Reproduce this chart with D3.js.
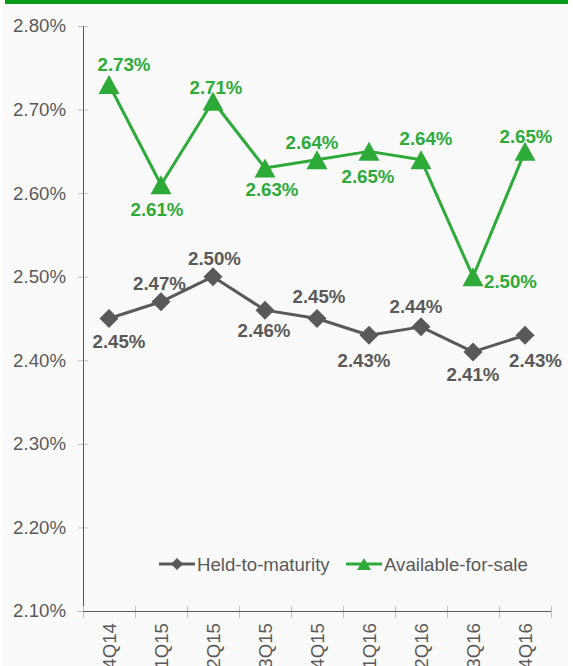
<!DOCTYPE html>
<html>
<head>
<meta charset="utf-8">
<script src="https://cdn.jsdelivr.net/npm/d3@7"></script>
<style>
  html, body { margin: 0; padding: 0; background: #ffffff; }
  svg { display: block; font-family: "Liberation Sans", Arial, sans-serif; }
</style>
</head>
<body>
<svg id="chart" width="573" height="666"></svg>
<script>
// ---- data ----
const categories = ["4Q14", "1Q15", "2Q15", "3Q15", "4Q15", "1Q16", "2Q16", "3Q16", "4Q16"];
const heldToMaturity = [2.45, 2.47, 2.50, 2.46, 2.45, 2.43, 2.44, 2.41, 2.43];
const availableForSale = [2.73, 2.61, 2.71, 2.63, 2.64, 2.65, 2.64, 2.50, 2.65];
const yTicks = [2.10, 2.20, 2.30, 2.40, 2.50, 2.60, 2.70, 2.80];
const seriesNames = ["Held-to-maturity", "Available-for-sale"];

// label placement (offsets of label centre from the point)
const htmLabelOffsets = [[10, 23], [-1.5, -19], [1.5, -18], [-1, 20], [2, -22], [-5, 25], [-5, -21], [0, 22], [10.5, 25]];
const afsLabelOffsets = [[15, -20], [-4, 24], [3, -14], [7, 21], [-5, -17], [-1, 25], [5, -21], [37.5, 5], [1, -15]];

// ---- styles ----
const GREEN = "#2eaa38";
const GRAY = "#595959";
const FS = 18.67;

const svg = d3.select("#chart");

// background panel + top bar
svg.append("rect").attr("x", 3).attr("y", 0).attr("width", 565).attr("height", 666).attr("fill", "#fafafa");
svg.append("rect").attr("x", 5).attr("y", 0).attr("width", 563).attr("height", 4).attr("fill", "#069c1a");

const pLeft = 83, pRight = 551, pTop = 26, pBottom = 611;
const x = d3.scaleBand().domain(categories).range([pLeft, pRight]).padding(0);
const y = d3.scaleLinear().domain([2.10, 2.80]).range([pBottom, pTop]);
const cx = d => x(d) + x.bandwidth() / 2;

// y axis
const yAxis = svg.append("g").attr("transform", `translate(${pLeft},0)`)
  .call(d3.axisLeft(y).tickValues(yTicks).tickSize(0).tickPadding(17).tickFormat(d => d.toFixed(2) + "%"));
yAxis.select(".domain").remove();
yAxis.selectAll("text").attr("font-size", FS).attr("fill", GRAY).attr("font-family", "Liberation Sans, Arial, sans-serif");
yAxis.selectAll(".tick").append("line").attr("x1", -5).attr("x2", 5).attr("stroke", "#c0c0c0").attr("stroke-width", 1);
svg.append("line").attr("x1", pLeft + 0.5).attr("x2", pLeft + 0.5).attr("y1", pTop).attr("y2", pBottom)
  .attr("stroke", GRAY).attr("stroke-width", 1);

// x axis
const xAxis = svg.append("g").attr("transform", `translate(0,${pBottom})`)
  .call(d3.axisBottom(x).tickSize(0).tickFormat(""));
xAxis.select(".domain").remove();
xAxis.selectAll(".tick").remove();
const xTickPos = categories.map(c => x(c)).concat([pRight]);
svg.append("g").selectAll("line").data(xTickPos).join("line")
  .attr("x1", d => d + 0.5).attr("x2", d => d + 0.5)
  .attr("y1", pBottom - 5).attr("y2", pBottom + 7)
  .attr("stroke", "#c0c0c0").attr("stroke-width", 1);
svg.append("line").attr("x1", pLeft).attr("x2", pRight).attr("y1", pBottom + 0.5).attr("y2", pBottom + 0.5)
  .attr("stroke", GRAY).attr("stroke-width", 1);
svg.append("g").selectAll("text").data(categories).join("text")
  .attr("transform", d => `translate(${cx(d)},${pBottom + 12}) rotate(-90)`)
  .attr("text-anchor", "end").attr("dy", "0.35em")
  .attr("font-size", FS).attr("fill", GRAY)
  .text(d => d);

// lines
const line = d3.line().x((d, i) => cx(categories[i])).y(d => y(d));
svg.append("path").datum(heldToMaturity).attr("d", line)
  .attr("fill", "none").attr("stroke", GRAY).attr("stroke-width", 3).attr("stroke-linejoin", "round");
svg.append("path").datum(availableForSale).attr("d", line)
  .attr("fill", "none").attr("stroke", GREEN).attr("stroke-width", 3).attr("stroke-linejoin", "round");

// markers
const diamond = "M0,-9.5L9.5,0L0,9.5L-9.5,0Z";
const triangle = "M0,-9.5L10.5,9.5L-10.5,9.5Z";
svg.append("g").selectAll("path").data(heldToMaturity).join("path")
  .attr("transform", (d, i) => `translate(${cx(categories[i])},${y(d)})`)
  .attr("d", diamond).attr("fill", GRAY);
svg.append("g").selectAll("path").data(availableForSale).join("path")
  .attr("transform", (d, i) => `translate(${cx(categories[i])},${y(d)})`)
  .attr("d", triangle).attr("fill", GREEN);

// data labels
function labels(data, offs, color) {
  svg.append("g").selectAll("text").data(data).join("text")
    .attr("x", (d, i) => cx(categories[i]) + offs[i][0])
    .attr("y", (d, i) => y(d) + offs[i][1])
    .attr("dy", "0.36em").attr("text-anchor", "middle")
    .attr("font-size", FS).attr("font-weight", "bold").attr("fill", color)
    .text(d => d.toFixed(2) + "%");
}
labels(heldToMaturity, htmLabelOffsets, GRAY);
labels(availableForSale, afsLabelOffsets, GREEN);

// legend
const lg = svg.append("g");
const legendItems = [
  { name: seriesNames[0], color: GRAY, shape: "M0,-6L6,0L0,6L-6,0Z", x0: 159 },
  { name: seriesNames[1], color: GREEN, shape: "M0,-6L7,6L-7,6Z", x0: 346 }
];
const ly = 564;
legendItems.forEach(it => {
  lg.append("line").attr("x1", it.x0).attr("x2", it.x0 + 36).attr("y1", ly).attr("y2", ly)
    .attr("stroke", it.color).attr("stroke-width", 3);
  lg.append("path").attr("transform", `translate(${it.x0 + 18},${ly})`).attr("d", it.shape).attr("fill", it.color);
  lg.append("text").attr("x", it.x0 + 38).attr("y", ly).attr("dy", "0.36em")
    .attr("font-size", FS).attr("fill", GRAY).text(it.name);
});
</script>
</body>
</html>
